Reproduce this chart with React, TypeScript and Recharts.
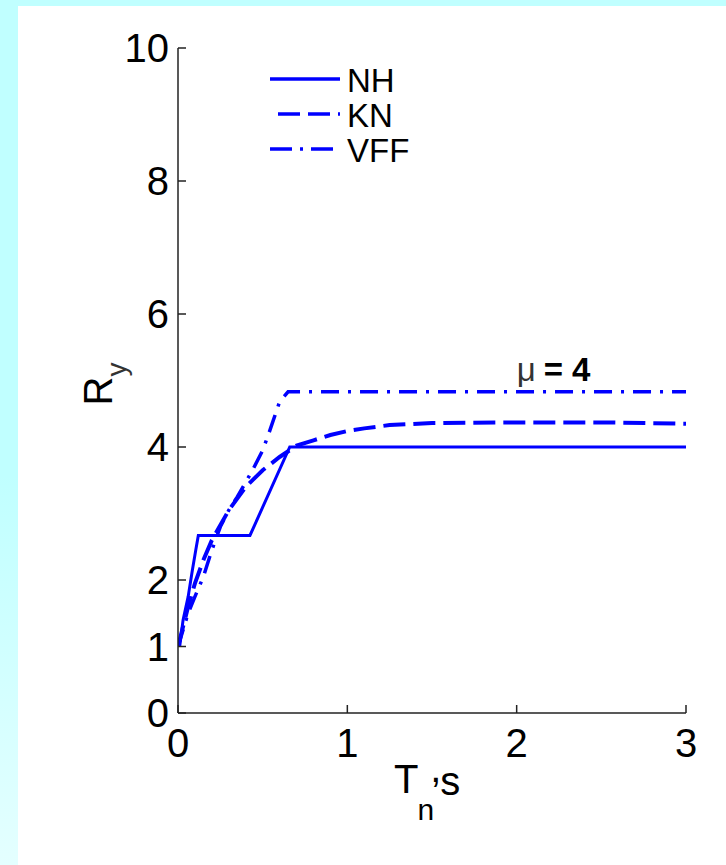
import { LineChart, Line, XAxis, YAxis, Legend, ReferenceDot, Label } from 'recharts';

// period (s) / yield reduction factor
const nhT = [0.01, 0.03, 0.06, 0.085, 0.105, 0.12, 0.425, 0.66, 3.0];
const nhR = [1.0, 1.4, 1.75, 2.15, 2.45, 2.67, 2.67, 4.0, 4.0];

const knT = [0.0, 0.03, 0.06, 0.1, 0.15, 0.2, 0.3, 0.4, 0.5, 0.6, 0.7, 0.8, 0.9, 1.0, 1.1, 1.25, 1.5, 2.0, 2.5, 3.0];
const knR = [1.0, 1.3, 1.6, 1.95, 2.3, 2.6, 3.05, 3.4, 3.65, 3.85, 4.02, 4.1, 4.18, 4.24, 4.28, 4.33, 4.36, 4.37, 4.37, 4.35];

const vffT = [0.0, 0.03, 0.06, 0.1, 0.15, 0.2, 0.25, 0.3, 0.35, 0.44, 0.5, 0.54, 0.6, 0.65, 3.0];
const vffR = [1.0, 1.25, 1.5, 1.75, 2.05, 2.45, 2.8, 3.05, 3.25, 3.65, 3.95, 4.23, 4.68, 4.83, 4.83];

const xTicks = [0, 1, 2, 3];
const yTicks = [0, 1, 2, 4, 6, 8, 10];

const BLUE = '#0000ff';
const FONT = '"Liberation Sans", Arial, Helvetica, sans-serif';

const toPoints = (t: number[], r: number[]) => t.map((T, i) => ({ T, R: r[i] }));

const series = [
  { name: 'NH', data: toPoints(nhT, nhR), width: 3, dash: undefined, legendDash: undefined, legendOffset: 0 },
  { name: 'KN', data: toPoints(knT, knR), width: 4, dash: '22 8', legendDash: '22 8', legendOffset: 22 },
  { name: 'VFF', data: toPoints(vffT, vffR), width: 3.5, dash: '18 9 3 9', legendDash: '22 8 3 8', legendOffset: 0 },
];

function BottomTick({ x, y, payload }: any) {
  return (
    <g>
      <line x1={x} y1={y} x2={x} y2={y - 8} stroke="#222" strokeWidth={1.5} />
      <text x={x} y={y + 44} textAnchor="middle" fontSize={40} fontFamily={FONT} fill="#000">
        {payload.value}
      </text>
    </g>
  );
}

function LeftTick({ x, y, payload }: any) {
  return (
    <g>
      <line x1={x} y1={y} x2={x + 8} y2={y} stroke="#222" strokeWidth={1.5} />
      <text x={x - 9} y={y + 14} textAnchor="end" fontSize={40} fontFamily={FONT} fill="#000">
        {payload.value}
      </text>
    </g>
  );
}

function TopTick({ x, y }: any) {
  return <line x1={x} y1={y} x2={x} y2={y + 8} stroke="#222" strokeWidth={1.5} />;
}

function RightTick({ x, y }: any) {
  return <line x1={x} y1={y} x2={x - 8} y2={y} stroke="#222" strokeWidth={1.5} />;
}

function XTitle({ viewBox }: any) {
  const cx = viewBox.x + viewBox.width / 2;
  const base = viewBox.y + 80;
  return (
    <text x={cx - 38} y={base} fontSize={40} fontFamily={FONT} fill="#000">
      T
      <tspan fontSize={30} dx={-1} dy={27}>n</tspan>
      <tspan fontSize={40} dx={-4} dy={-38}>,</tspan>
      <tspan dx={-1} dy={13}>s</tspan>
    </text>
  );
}

function YTitle({ viewBox }: any) {
  const x = viewBox.x + viewBox.width - 66;
  const y = viewBox.y + viewBox.height / 2 + 25;
  return (
    <text transform={`translate(${x},${y}) rotate(-90)`} fontSize={40} fontFamily={FONT} fill="#000">
      R
      <tspan fontSize={28} dy={14} fill="#333">y</tspan>
    </text>
  );
}

function MuLabel({ viewBox }: any) {
  return (
    <text x={viewBox.x} y={viewBox.y} fontSize={33} fontFamily={FONT} fill="#000">
      <tspan fill="#333">μ</tspan>
      <tspan fontWeight="bold" dx={8}>= 4</tspan>
    </text>
  );
}

function LegendBox() {
  return (
    <svg width={150} height={115} style={{ display: 'block' }}>
      {series.map((s, i) => {
        const ly = 19 + i * 35;
        return (
          <g key={s.name}>
            <line x1={2} x2={72} y1={ly} y2={ly} stroke={BLUE} strokeWidth={3.5}
              strokeDasharray={s.legendDash} strokeDashoffset={s.legendOffset} />
            <text x={79} y={ly + 13} fontSize={33} fontFamily={FONT} fill="#000">{s.name}</text>
          </g>
        );
      })}
    </svg>
  );
}

export default function App() {
  return (
    <div style={{ position: 'absolute', left: 0, top: 0, width: 726, height: 865, overflow: 'hidden',
      background: 'linear-gradient(to bottom, #c0ffff 0%, #c0ffff 55%, #e4ffff 100%)' }}>
      <div style={{ position: 'absolute', left: 18, top: 6, right: 0, bottom: 0, background: '#fff' }} />
      <div style={{ position: 'absolute', left: 0, top: 0 }}>
        <LineChart width={726} height={865} margin={{ top: 48, right: 40, bottom: 92, left: 118 }}>
          <XAxis dataKey="T" type="number" domain={[0, 3]} ticks={xTicks} allowDataOverflow
            height={60} tickSize={0} tickMargin={0} tickLine={false} tick={<BottomTick />}
            axisLine={{ stroke: '#222', strokeWidth: 1.5 }}>
            <Label content={<XTitle />} />
          </XAxis>
          <XAxis xAxisId="top" orientation="top" dataKey="T" type="number" domain={[0, 3]} ticks={xTicks}
            allowDataOverflow height={0} tickSize={0} tickMargin={0} tickLine={false} tick={<TopTick />}
            axisLine={{ stroke: '#222', strokeWidth: 1.5 }} />
          <YAxis type="number" domain={[0, 10]} ticks={yTicks} allowDataOverflow width={60}
            tickSize={0} tickMargin={0} tickLine={false} tick={<LeftTick />}
            axisLine={{ stroke: '#222', strokeWidth: 1.5 }}>
            <Label content={<YTitle />} />
          </YAxis>
          <YAxis yAxisId="right" orientation="right" type="number" domain={[0, 10]} ticks={yTicks}
            allowDataOverflow width={0} tickSize={0} tickMargin={0} tickLine={false} tick={<RightTick />}
            axisLine={{ stroke: '#222', strokeWidth: 1.5 }} />
          {series.map((s) => (
            <Line key={s.name} data={s.data} dataKey="R" name={s.name} type="linear" stroke={BLUE}
              strokeWidth={s.width} strokeDasharray={s.dash} dot={false} activeDot={false}
              isAnimationActive={false} />
          ))}
          <ReferenceDot x={2.0} y={5.0} r={0} fill="none" stroke="none" label={(p: any) => <MuLabel {...p} />} />
          <Legend layout="vertical" align="center" verticalAlign="middle" content={() => <LegendBox />}
            wrapperStyle={{ left: 268, top: 60, width: 150, height: 115 }} />
        </LineChart>
      </div>
    </div>
  );
}
